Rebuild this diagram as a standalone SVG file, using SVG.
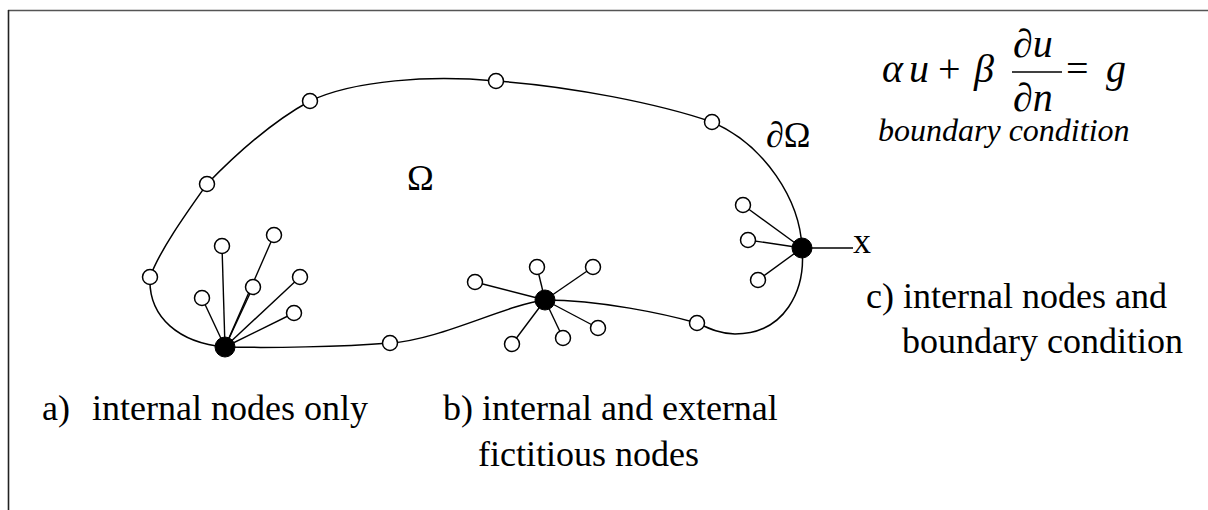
<svg xmlns="http://www.w3.org/2000/svg" width="1208" height="510" viewBox="0 0 1208 510">
  <style>
    .edge { fill: none; stroke: #000; stroke-width: 1.5; }
    .spoke { stroke: #000; stroke-width: 1.4; }
    .open { fill: #fff; stroke: #000; stroke-width: 1.5; }
    .solid { fill: #000; stroke: #000; stroke-width: 1; }
  </style>

  <rect width="1208" height="510" fill="#fff"/>

  <!-- frame -->
  <line x1="8" y1="10.5" x2="1208" y2="10.5" stroke="#555" stroke-width="1.6"/>
  <line x1="8.5" y1="10" x2="8.5" y2="510" stroke="#222" stroke-width="1.6"/>

  <!-- domain boundary -->
  <g id="boundary">
    <path class="edge" d="M225,347 C180,343 148,318 150,277 C160,250 185,215 207,184 C240,150 275,120 310,101 C355,80 430,75 496,81 C570,86 660,104 712,122 C765,145 800,200 802,248 C806,290 785,334 735,334 C720,334 708,328 697,323 C665,314 600,300 545,300 C505,305 440,340 390,343 C340,347 270,348 225,347 Z"/>
  </g>

  <!-- connectors -->
  <g id="connectors">
    <!-- a) star -->
    <line class="spoke" x1="225" y1="347" x2="222" y2="246"/>
    <line class="spoke" x1="225" y1="347" x2="274" y2="235"/>
    <line class="spoke" x1="225" y1="347" x2="300" y2="277"/>
    <line class="spoke" x1="225" y1="347" x2="253" y2="287"/>
    <line class="spoke" x1="225" y1="347" x2="202" y2="298"/>
    <line class="spoke" x1="225" y1="347" x2="294" y2="313"/>
    <!-- b) star -->
    <line class="spoke" x1="545" y1="300" x2="475" y2="282"/>
    <line class="spoke" x1="545" y1="300" x2="537" y2="267"/>
    <line class="spoke" x1="545" y1="300" x2="593" y2="267"/>
    <line class="spoke" x1="545" y1="300" x2="598" y2="328"/>
    <line class="spoke" x1="545" y1="300" x2="563" y2="338"/>
    <line class="spoke" x1="545" y1="300" x2="512" y2="344"/>
    <!-- c) star -->
    <line class="spoke" x1="802" y1="248" x2="743" y2="205"/>
    <line class="spoke" x1="802" y1="248" x2="748" y2="240"/>
    <line class="spoke" x1="802" y1="248" x2="758" y2="280"/>
    <line class="spoke" x1="802" y1="248" x2="853" y2="248"/>
  </g>

  <!-- boundary nodes -->
  <g id="bn1"><circle class="open" cx="150" cy="277" r="7.5"/></g>
  <g id="bn2"><circle class="open" cx="207" cy="184" r="7.5"/></g>
  <g id="bn3"><circle class="open" cx="310" cy="101" r="7.5"/></g>
  <g id="bn4"><circle class="open" cx="496" cy="81" r="7.5"/></g>
  <g id="bn5"><circle class="open" cx="712" cy="122" r="7.5"/></g>
  <g id="bn6"><circle class="open" cx="390" cy="343" r="7.5"/></g>
  <g id="bn7"><circle class="open" cx="697" cy="323" r="7.5"/></g>

  <!-- a) internal nodes only -->
  <g id="a1"><circle class="open" cx="222" cy="246" r="7.5"/></g>
  <g id="a2"><circle class="open" cx="274" cy="235" r="7.5"/></g>
  <g id="a3"><circle class="open" cx="300" cy="277" r="7.5"/></g>
  <g id="a4"><circle class="open" cx="253" cy="287" r="7.5"/></g>
  <g id="a5"><circle class="open" cx="202" cy="298" r="7.5"/></g>
  <g id="a6"><circle class="open" cx="294" cy="313" r="7.5"/></g>
  <g id="centerA"><circle class="solid" cx="225" cy="347" r="10"/></g>

  <!-- b) internal and external nodes -->
  <g id="b1"><circle class="open" cx="475" cy="282" r="7.5"/></g>
  <g id="b2"><circle class="open" cx="537" cy="267" r="7.5"/></g>
  <g id="b3"><circle class="open" cx="593" cy="267" r="7.5"/></g>
  <g id="b4"><circle class="open" cx="598" cy="328" r="7.5"/></g>
  <g id="b5"><circle class="open" cx="563" cy="338" r="7.5"/></g>
  <g id="b6"><circle class="open" cx="512" cy="344" r="7.5"/></g>
  <g id="centerB"><circle class="solid" cx="545" cy="300" r="10"/></g>

  <!-- c) internal nodes with boundary condition -->
  <g id="c1"><circle class="open" cx="743" cy="205" r="7.5"/></g>
  <g id="c2"><circle class="open" cx="748" cy="240" r="7.5"/></g>
  <g id="c3"><circle class="open" cx="758" cy="280" r="7.5"/></g>
  <g id="centerC"><circle class="solid" cx="802" cy="248" r="10"/></g>

  <!-- all lettering in a Times-metric serif -->
  <g font-family="'Liberation Serif', 'DejaVu Serif', serif" fill="#000">
    <g id="xmark"><text x="853" y="253" font-size="36">x</text></g>

    <!-- region labels -->
    <text x="407" y="190" font-size="36">Ω</text>
    <text x="766" y="147" font-size="36">∂Ω</text>

    <!-- boundary condition formula -->
    <g id="formula" font-size="40">
      <text x="882" y="82" font-style="italic">α</text>
      <text x="909" y="82" font-style="italic">u</text>
      <text x="938" y="82">+</text>
      <text x="974" y="82" font-style="italic">β</text>
      <text x="1013" y="57">∂<tspan font-style="italic">u</tspan></text>
      <line x1="1012" y1="72" x2="1062" y2="72" stroke="#000" stroke-width="1.6"/>
      <text x="1013" y="111">∂<tspan font-style="italic">n</tspan></text>
      <text x="1066" y="82">=</text>
      <text x="1106" y="82" font-style="italic">g</text>
    </g>
    <text x="878" y="141" font-size="32" font-style="italic">boundary condition</text>

    <!-- captions -->
    <g font-size="36">
      <text x="42" y="420">a)</text>
      <text x="92" y="420">internal nodes only</text>
      <text x="443" y="420">b) internal and external</text>
      <text x="478" y="466">fictitious nodes</text>
      <text x="866" y="308">c) internal nodes and</text>
      <text x="902" y="353">boundary condition</text>
    </g>
  </g>
</svg>
